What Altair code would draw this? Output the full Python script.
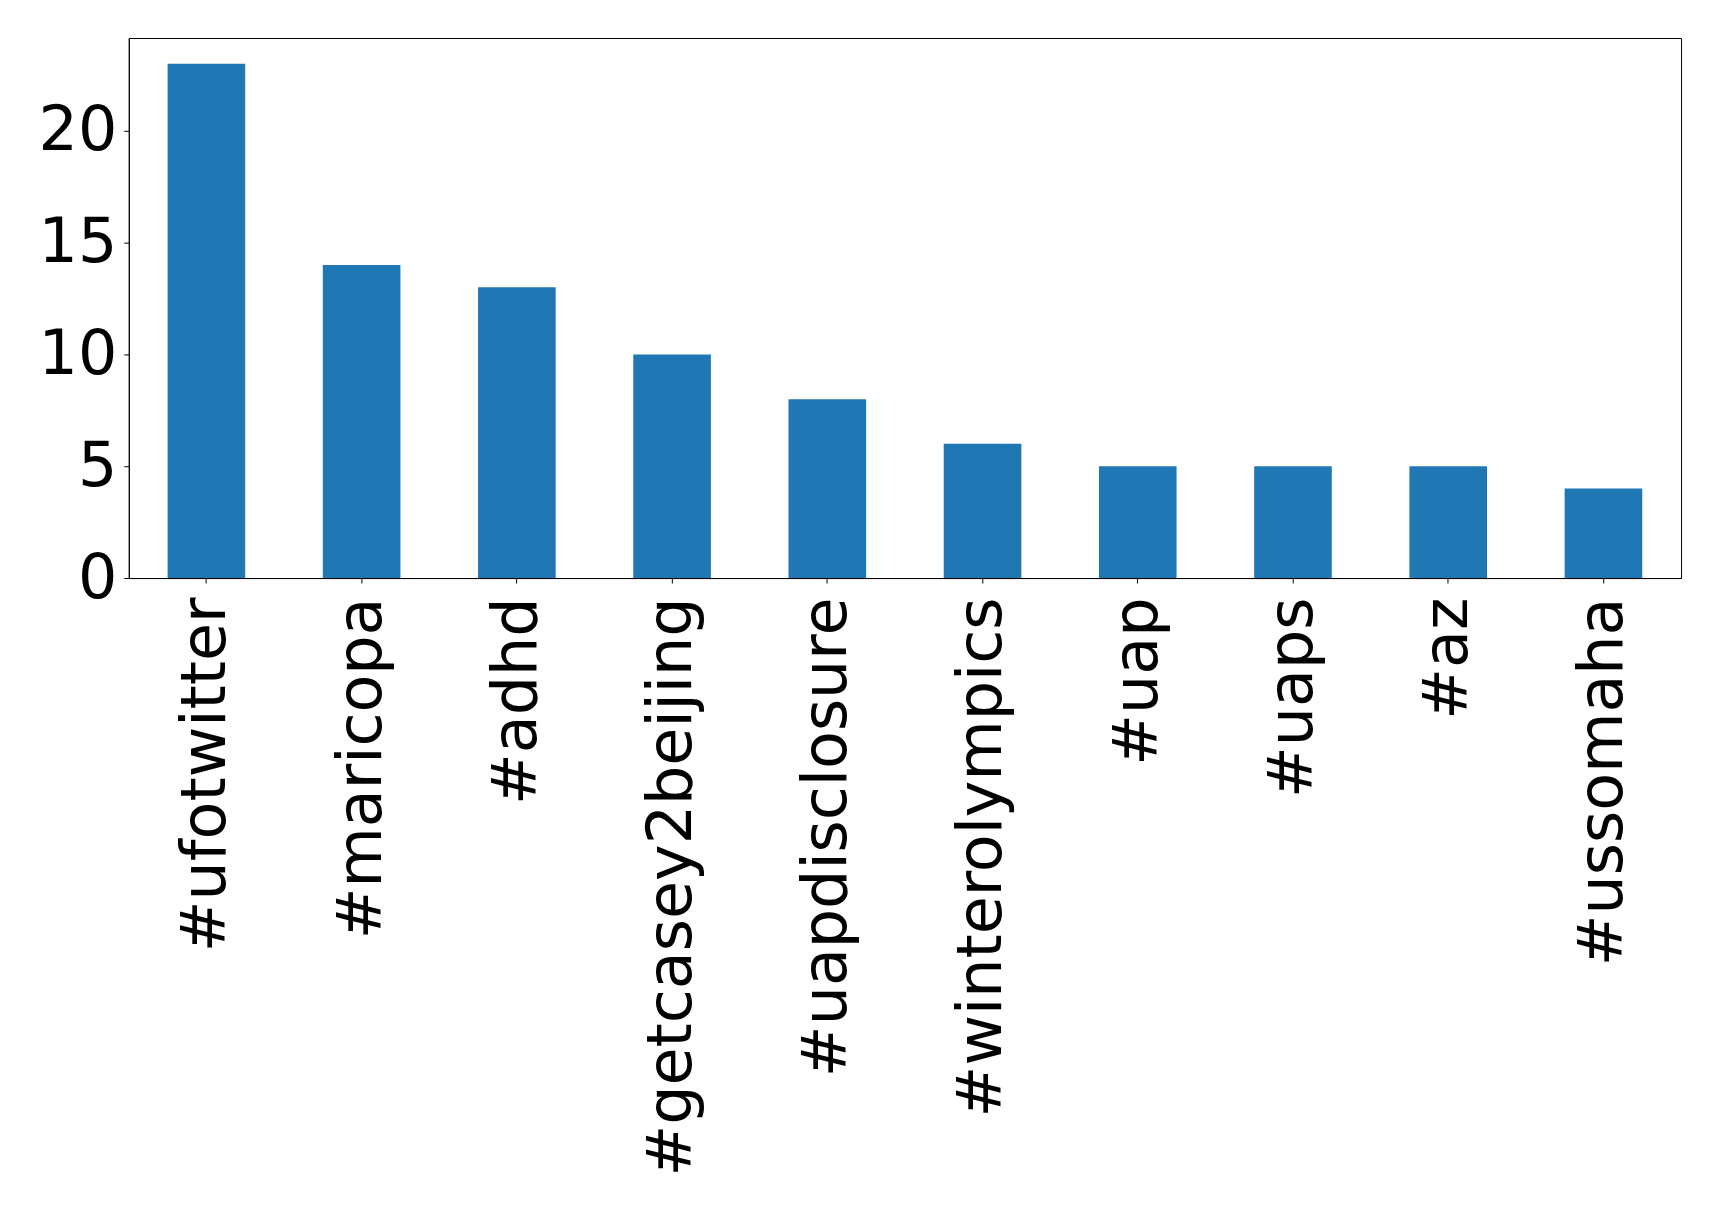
import altair as alt
import pandas as pd

hashtags = ["#ufotwitter", "#maricopa", "#adhd", "#getcasey2beijing", "#uapdisclosure",
            "#winterolympics", "#uap", "#uaps", "#az", "#ussomaha"]
counts = [23, 14, 13, 10, 8, 6, 5, 5, 5, 4]
y_ticks = [0, 5, 10, 15, 20]

df = pd.DataFrame({"tag": hashtags, "count": counts})

FONT = "DejaVu Sans"
FS = 62

chart = alt.Chart(df).mark_bar(color="#1f77b4").encode(
    x=alt.X("tag:N", sort=hashtags, title=None,
            scale=alt.Scale(paddingInner=0.5, paddingOuter=0.25),
            axis=alt.Axis(labelAngle=270, labelAlign="right", labelBaseline="middle",
                          labelFont=FONT, labelFontSize=FS, labelColor="black",
                          labelLimit=2000, labelPadding=14, tickSize=5,
                          tickColor="black", domainColor="black", grid=False)),
    y=alt.Y("count:Q", title=None,
            scale=alt.Scale(domain=[0, 24.15], nice=False, zero=True),
            axis=alt.Axis(values=y_ticks, labelFont=FONT, labelFontSize=FS,
                          labelColor="black", labelPadding=7, tickSize=5,
                          tickColor="black", domainColor="black", grid=False,
                          labelBaseline="middle")),
).properties(
    width=1555, height=541,
    autosize=alt.AutoSizeParams(type="none"),
    padding={"left": 121, "top": 29, "right": 30, "bottom": 620},
).configure_view(stroke="black", strokeWidth=1)

chart.save("out.html", embed_options={"renderer": "svg", "actions": False})
